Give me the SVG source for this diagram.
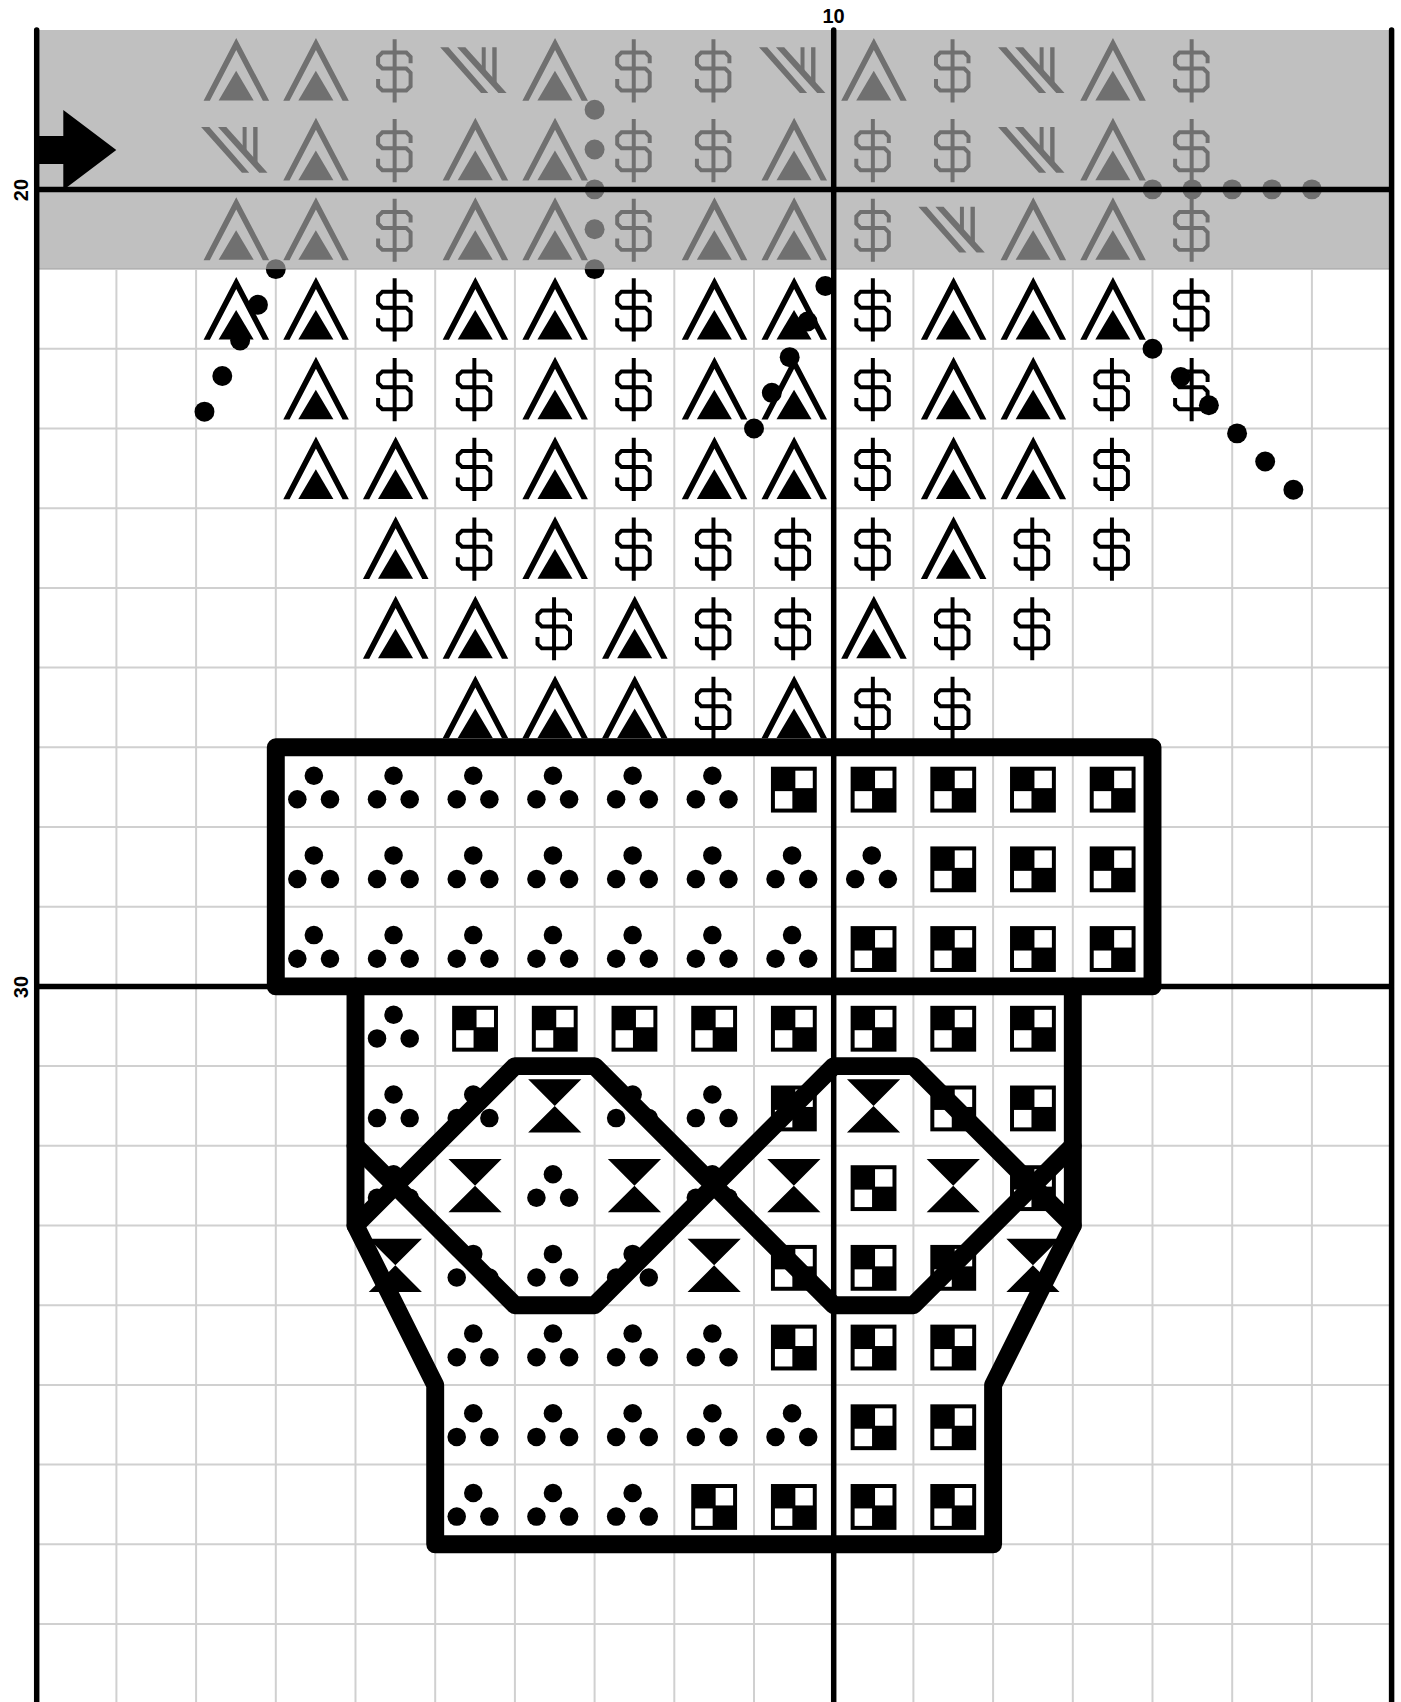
<svg xmlns="http://www.w3.org/2000/svg" xmlns:xlink="http://www.w3.org/1999/xlink" width="1401" height="1702" viewBox="0 0 1401 1702">
<style>
.grid{stroke:#d0d0d0;stroke-width:2;fill:none}
.major{stroke:#000;stroke-width:5.5;fill:none;stroke-linecap:round}
.outline{stroke:#000;stroke-width:18;fill:none;stroke-linejoin:round;stroke-linecap:round}
.lbl{font-family:"Liberation Sans",Arial,sans-serif;font-weight:bold;font-size:20px;fill:#000}
.knot{fill:#000}
</style>
<defs>
<g id="sA"><path d="M7.5 71L40.3 8L73.3 71H67L40.3 20.1L13.8 71Z" fill="#000"/><path d="M22.6 70.7H57.8L40.2 41Z" fill="#000"/></g>
<g id="sS"><path d="M55.3 33.3V27L51 22.7H27L22.7 27V34.5L27 38.7H51L55.3 43V56.5L51 60.7H27L22.7 56.5V49.3M39.3 9.3V72.7" fill="none" stroke="#000" stroke-width="4"/></g>
<g id="sV" fill="#000"><path d="M5 17.3H13.3L53.3 63.3H46Z"/><path d="M22 17.3H30.3L71.7 63.3H63.4Z"/><path d="M46.7 17.3H50.7V45L46.7 40Z"/><path d="M57.3 17.3H61.7V57L57.3 52Z"/></g>
<g id="sC"><rect x="17" y="19.5" width="46" height="46" fill="#000"/><rect x="41.5" y="23.5" width="17.5" height="17.5" fill="#fff"/><rect x="21" y="44" width="17.5" height="17.5" fill="#fff"/></g>
<g id="sH"><path d="M13.3 13.3H66.7L40 40ZM13.3 66.7H66.7L40 40Z" fill="#000"/></g>
<g id="sD" fill="#000"><circle cx="38.2" cy="28.5" r="9.3"/><circle cx="21.6" cy="52.2" r="9.3"/><circle cx="54.4" cy="52.2" r="9.3"/></g>
</defs>
<rect x="0" y="0" width="1401" height="1702" fill="#fff"/>
<g id="chart" transform="translate(36.7 30) scale(0.99625)">
<path id="gridlines" class="grid" d="M80 240V1680M160 240V1680M240 240V1680M320 240V1680M400 240V1680M480 240V1680M560 240V1680M640 240V1680M720 240V1680M880 240V1680M960 240V1680M1040 240V1680M1120 240V1680M1200 240V1680M1280 240V1680M0 240H1360M0 320H1360M0 400H1360M0 480H1360M0 560H1360M0 640H1360M0 720H1360M0 800H1360M0 880H1360M0 1040H1360M0 1120H1360M0 1200H1360M0 1280H1360M0 1360H1360M0 1440H1360M0 1520H1360M0 1600H1360"/>
<g id="symbols">
<!-- row 0 -->
<use href="#sA" x="160" y="0"/><use href="#sA" x="240" y="0"/><use href="#sS" x="320" y="0"/><use href="#sV" x="400" y="0"/><use href="#sA" x="480" y="0"/><use href="#sS" x="560" y="0"/><use href="#sS" x="640" y="0"/><use href="#sV" x="720" y="0"/><use href="#sA" x="800" y="0"/><use href="#sS" x="880" y="0"/><use href="#sV" x="960" y="0"/><use href="#sA" x="1040" y="0"/><use href="#sS" x="1120" y="0"/>
<!-- row 1 -->
<use href="#sV" x="160" y="80"/><use href="#sA" x="240" y="80"/><use href="#sS" x="320" y="80"/><use href="#sA" x="400" y="80"/><use href="#sA" x="480" y="80"/><use href="#sS" x="560" y="80"/><use href="#sS" x="640" y="80"/><use href="#sA" x="720" y="80"/><use href="#sS" x="800" y="80"/><use href="#sS" x="880" y="80"/><use href="#sV" x="960" y="80"/><use href="#sA" x="1040" y="80"/><use href="#sS" x="1120" y="80"/>
<!-- row 2 -->
<use href="#sA" x="160" y="160"/><use href="#sA" x="240" y="160"/><use href="#sS" x="320" y="160"/><use href="#sA" x="400" y="160"/><use href="#sA" x="480" y="160"/><use href="#sS" x="560" y="160"/><use href="#sA" x="640" y="160"/><use href="#sA" x="720" y="160"/><use href="#sS" x="800" y="160"/><use href="#sV" x="880" y="160"/><use href="#sA" x="960" y="160"/><use href="#sA" x="1040" y="160"/><use href="#sS" x="1120" y="160"/>
<!-- row 3 -->
<use href="#sA" x="160" y="240"/><use href="#sA" x="240" y="240"/><use href="#sS" x="320" y="240"/><use href="#sA" x="400" y="240"/><use href="#sA" x="480" y="240"/><use href="#sS" x="560" y="240"/><use href="#sA" x="640" y="240"/><use href="#sA" x="720" y="240"/><use href="#sS" x="800" y="240"/><use href="#sA" x="880" y="240"/><use href="#sA" x="960" y="240"/><use href="#sA" x="1040" y="240"/><use href="#sS" x="1120" y="240"/>
<!-- row 4 -->
<use href="#sA" x="240" y="320"/><use href="#sS" x="320" y="320"/><use href="#sS" x="400" y="320"/><use href="#sA" x="480" y="320"/><use href="#sS" x="560" y="320"/><use href="#sA" x="640" y="320"/><use href="#sA" x="720" y="320"/><use href="#sS" x="800" y="320"/><use href="#sA" x="880" y="320"/><use href="#sA" x="960" y="320"/><use href="#sS" x="1040" y="320"/><use href="#sS" x="1120" y="320"/>
<!-- row 5 -->
<use href="#sA" x="240" y="400"/><use href="#sA" x="320" y="400"/><use href="#sS" x="400" y="400"/><use href="#sA" x="480" y="400"/><use href="#sS" x="560" y="400"/><use href="#sA" x="640" y="400"/><use href="#sA" x="720" y="400"/><use href="#sS" x="800" y="400"/><use href="#sA" x="880" y="400"/><use href="#sA" x="960" y="400"/><use href="#sS" x="1040" y="400"/>
<!-- row 6 -->
<use href="#sA" x="320" y="480"/><use href="#sS" x="400" y="480"/><use href="#sA" x="480" y="480"/><use href="#sS" x="560" y="480"/><use href="#sS" x="640" y="480"/><use href="#sS" x="720" y="480"/><use href="#sS" x="800" y="480"/><use href="#sA" x="880" y="480"/><use href="#sS" x="960" y="480"/><use href="#sS" x="1040" y="480"/>
<!-- row 7 -->
<use href="#sA" x="320" y="560"/><use href="#sA" x="400" y="560"/><use href="#sS" x="480" y="560"/><use href="#sA" x="560" y="560"/><use href="#sS" x="640" y="560"/><use href="#sS" x="720" y="560"/><use href="#sA" x="800" y="560"/><use href="#sS" x="880" y="560"/><use href="#sS" x="960" y="560"/>
<!-- row 8 -->
<use href="#sA" x="400" y="640"/><use href="#sA" x="480" y="640"/><use href="#sA" x="560" y="640"/><use href="#sS" x="640" y="640"/><use href="#sA" x="720" y="640"/><use href="#sS" x="800" y="640"/><use href="#sS" x="880" y="640"/>
<!-- row 9 -->
<use href="#sD" x="240" y="720"/><use href="#sD" x="320" y="720"/><use href="#sD" x="400" y="720"/><use href="#sD" x="480" y="720"/><use href="#sD" x="560" y="720"/><use href="#sD" x="640" y="720"/><use href="#sC" x="720" y="720"/><use href="#sC" x="800" y="720"/><use href="#sC" x="880" y="720"/><use href="#sC" x="960" y="720"/><use href="#sC" x="1040" y="720"/>
<!-- row 10 -->
<use href="#sD" x="240" y="800"/><use href="#sD" x="320" y="800"/><use href="#sD" x="400" y="800"/><use href="#sD" x="480" y="800"/><use href="#sD" x="560" y="800"/><use href="#sD" x="640" y="800"/><use href="#sD" x="720" y="800"/><use href="#sD" x="800" y="800"/><use href="#sC" x="880" y="800"/><use href="#sC" x="960" y="800"/><use href="#sC" x="1040" y="800"/>
<!-- row 11 -->
<use href="#sD" x="240" y="880"/><use href="#sD" x="320" y="880"/><use href="#sD" x="400" y="880"/><use href="#sD" x="480" y="880"/><use href="#sD" x="560" y="880"/><use href="#sD" x="640" y="880"/><use href="#sD" x="720" y="880"/><use href="#sC" x="800" y="880"/><use href="#sC" x="880" y="880"/><use href="#sC" x="960" y="880"/><use href="#sC" x="1040" y="880"/>
<!-- row 12 -->
<use href="#sD" x="320" y="960"/><use href="#sC" x="400" y="960"/><use href="#sC" x="480" y="960"/><use href="#sC" x="560" y="960"/><use href="#sC" x="640" y="960"/><use href="#sC" x="720" y="960"/><use href="#sC" x="800" y="960"/><use href="#sC" x="880" y="960"/><use href="#sC" x="960" y="960"/>
<!-- row 13 -->
<use href="#sD" x="320" y="1040"/><use href="#sD" x="400" y="1040"/><use href="#sH" x="480" y="1040"/><use href="#sD" x="560" y="1040"/><use href="#sD" x="640" y="1040"/><use href="#sC" x="720" y="1040"/><use href="#sH" x="800" y="1040"/><use href="#sC" x="880" y="1040"/><use href="#sC" x="960" y="1040"/>
<!-- row 14 -->
<use href="#sD" x="320" y="1120"/><use href="#sH" x="400" y="1120"/><use href="#sD" x="480" y="1120"/><use href="#sH" x="560" y="1120"/><use href="#sD" x="640" y="1120"/><use href="#sH" x="720" y="1120"/><use href="#sC" x="800" y="1120"/><use href="#sH" x="880" y="1120"/><use href="#sC" x="960" y="1120"/>
<!-- row 15 -->
<use href="#sH" x="320" y="1200"/><use href="#sD" x="400" y="1200"/><use href="#sD" x="480" y="1200"/><use href="#sD" x="560" y="1200"/><use href="#sH" x="640" y="1200"/><use href="#sC" x="720" y="1200"/><use href="#sC" x="800" y="1200"/><use href="#sC" x="880" y="1200"/><use href="#sH" x="960" y="1200"/>
<!-- row 16 -->
<use href="#sD" x="400" y="1280"/><use href="#sD" x="480" y="1280"/><use href="#sD" x="560" y="1280"/><use href="#sD" x="640" y="1280"/><use href="#sC" x="720" y="1280"/><use href="#sC" x="800" y="1280"/><use href="#sC" x="880" y="1280"/>
<!-- row 17 -->
<use href="#sD" x="400" y="1360"/><use href="#sD" x="480" y="1360"/><use href="#sD" x="560" y="1360"/><use href="#sD" x="640" y="1360"/><use href="#sD" x="720" y="1360"/><use href="#sC" x="800" y="1360"/><use href="#sC" x="880" y="1360"/>
<!-- row 18 -->
<use href="#sD" x="400" y="1440"/><use href="#sD" x="480" y="1440"/><use href="#sD" x="560" y="1440"/><use href="#sC" x="640" y="1440"/><use href="#sC" x="720" y="1440"/><use href="#sC" x="800" y="1440"/><use href="#sC" x="880" y="1440"/>
</g>
<g id="knots" class="knot">
<circle cx="560" cy="80" r="10"/><circle cx="560" cy="120" r="10"/><circle cx="560" cy="160" r="10"/><circle cx="560" cy="200" r="10"/><circle cx="560" cy="240" r="10"/>
<circle cx="1120" cy="160" r="10"/><circle cx="1160" cy="160" r="10"/><circle cx="1200" cy="160" r="10"/><circle cx="1240" cy="160" r="10"/><circle cx="1280" cy="160" r="10"/>
<circle cx="240" cy="240" r="10"/><circle cx="222.1" cy="275.8" r="10"/><circle cx="204.2" cy="311.6" r="10"/><circle cx="186.3" cy="347.3" r="10"/><circle cx="168.4" cy="383.1" r="10"/>
<circle cx="720" cy="400" r="10"/><circle cx="737.9" cy="364.2" r="10"/><circle cx="755.8" cy="328.4" r="10"/><circle cx="773.7" cy="292.6" r="10"/><circle cx="791.6" cy="256.9" r="10"/>
<circle cx="1120" cy="320" r="10"/><circle cx="1148.3" cy="348.3" r="10"/><circle cx="1176.6" cy="376.6" r="10"/><circle cx="1204.9" cy="404.9" r="10"/><circle cx="1233.1" cy="433.1" r="10"/><circle cx="1261.4" cy="461.4" r="10"/>
</g>
<rect id="shade" x="0" y="0" width="1360" height="240" fill="#a3a3a3" fill-opacity="0.686"/>
<g id="majorlines" class="major">
<path d="M0 0V1680M1360 0V1680M800 0V1680M0 160H1360M0 960H1360"/>
</g>
<g id="connectors" class="outline">
<rect x="240" y="720" width="880" height="240"/>
<path d="M320 960V1200L400 1360V1520H960V1360L1040 1200V960"/>
<path d="M320 1200L480 1040H560L800 1280H880L1040 1120"/>
<path d="M320 1120L480 1280H560L800 1040H880L1040 1200"/>
</g>
</g>
<polygon id="arrow" points="36.7,136 63.3,136 63.3,110 116.3,150 63.3,190 63.3,164 36.7,164" fill="#000"/>
<g id="labels">
<text class="lbl" x="833.5" y="23" text-anchor="middle">10</text>
<text class="lbl" x="28" y="190" text-anchor="middle" transform="rotate(-90 28 190)">20</text>
<text class="lbl" x="28" y="987" text-anchor="middle" transform="rotate(-90 28 987)">30</text>
</g>
</svg>
